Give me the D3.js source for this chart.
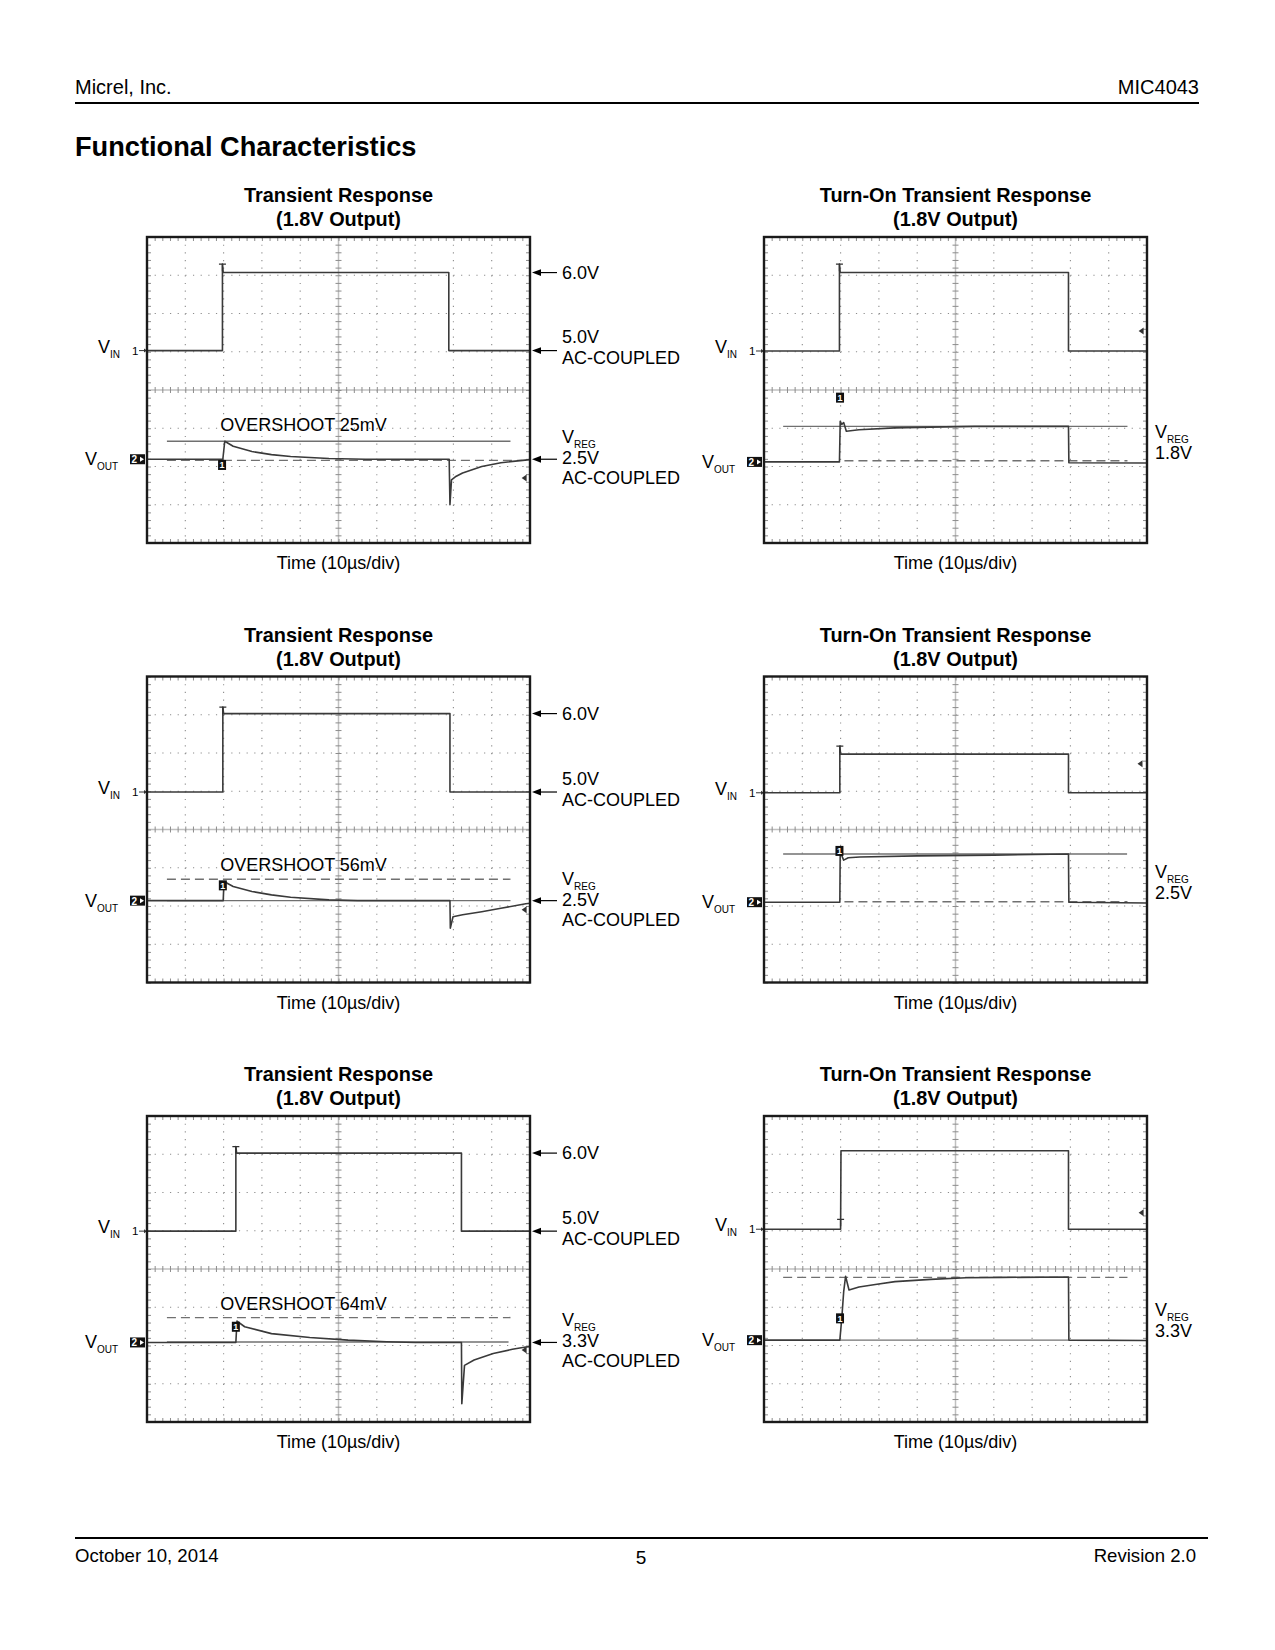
<!DOCTYPE html>
<html>
<head>
<meta charset="utf-8">
<script src="https://cdn.jsdelivr.net/npm/d3@7"></script>
<style>
  body { margin: 0; background: #fff; }
  svg { display: block; font-family: "Liberation Sans", Arial, Helvetica, sans-serif; }
</style>
</head>
<body>
<svg id="page" width="1275" height="1650"></svg>
<script>
// ---- data: time in µs (10 div x 10µs), level in screen divisions (0 = centre, +-4 = edges) ----
const titles = ["Transient Response", "Turn-On Transient Response", "Transient Response",
                "Turn-On Transient Response", "Transient Response", "Turn-On Transient Response"];
const subtitle = "(1.8V Output)";
const xLabel = "Time (10µs/div)";
const vinHiText = ["6.0V", null, "6.0V", null, "6.0V", null];
const vinLoText = ["5.0V", null, "5.0V", null, "5.0V", null];
const vregText = ["2.5V", "1.8V", "2.5V", "2.5V", "3.3V", "3.3V"];
const overshootText = ["OVERSHOOT 25mV", null, "OVERSHOOT 56mV", null, "OVERSHOOT 64mV", null];

// channel 1 (VIN) traces
const vin1 = [[0,1.03],[19.7,1.03],[19.7,3.29],[19.9,3.07],[78.8,3.07],[78.8,1.03],[100,1.03]];
const vin2 = [[0,1.02],[19.7,1.02],[19.7,3.29],[19.9,3.07],[79.5,3.07],[79.5,1.02],[100,1.02]];
const vin3 = [[0,0.98],[19.8,0.98],[19.8,3.2],[20,3.03],[79.1,3.03],[79.1,0.98],[100,0.98]];
const vin4 = [[0,0.96],[19.8,0.96],[19.8,2.18],[20,1.97],[79.5,1.97],[79.5,0.96],[100,0.96]];
const vin5 = [[0,0.99],[23.2,0.99],[23.2,3.2],[23.4,3.03],[82.1,3.03],[82.1,0.99],[100,0.99]];
const vin6 = [[0,1.04],[20,1.04],[20.1,3.09],[79.5,3.09],[79.5,1.04],[100,1.04]];

// channel 2 (VOUT) traces
const vout1 = [[0,-1.81],[19.8,-1.81],[20.3,-1.34],[22.5,-1.47],[27.4,-1.61],[32.5,-1.69],[37.5,-1.74],
               [47.5,-1.79],[57,-1.81],[78.9,-1.81],[79.1,-3.0],[79.5,-2.35],[80.5,-2.27],[82.4,-2.17],
               [87.4,-2.0],[92.4,-1.9],[100,-1.82]];
const vout2 = [[0,-1.88],[19.7,-1.88],[19.9,-0.82],[20.3,-0.9],[20.8,-0.85],[21.5,-1.08],[24.8,-1.04],
               [34.1,-0.99],[43.5,-0.97],[55,-0.95],[79.5,-0.95],[79.6,-1.9],[100,-1.91]];
const vout3 = [[0,-1.86],[19.9,-1.86],[20.1,-1.36],[22.5,-1.49],[27.4,-1.62],[32.5,-1.71],[37.5,-1.77],
               [47.5,-1.84],[55,-1.86],[79.1,-1.86],[79.2,-2.58],[79.9,-2.28],[82.4,-2.23],[87.4,-2.15],
               [92.4,-2.06],[98.9,-1.94],[100,-1.93]];
const vout4 = [[0,-1.9],[19.8,-1.9],[19.9,-0.56],[20.3,-0.68],[20.8,-0.8],[22,-0.74],[25,-0.72],
               [40,-0.69],[60,-0.67],[79.5,-0.64],[79.6,-1.9],[100,-1.92]];
const vout5 = [[0,-1.92],[23.2,-1.92],[23.5,-1.36],[25.5,-1.51],[32.5,-1.69],[42.5,-1.79],[52.5,-1.86],
               [62.5,-1.9],[70,-1.92],[82.1,-1.92],[82.2,-3.52],[82.9,-2.52],[85.4,-2.38],[90.4,-2.21],
               [95.4,-2.1],[98.9,-2.04],[100,-2.03]];
const vout6 = [[0,-1.86],[19.8,-1.86],[20.3,-1.3],[20.8,-0.6],[21.3,-0.19],[22.2,-0.55],[24.8,-0.47],
               [29.5,-0.4],[34.2,-0.33],[43.5,-0.27],[52.8,-0.23],[62.1,-0.22],[79.5,-0.21],
               [79.6,-1.86],[100,-1.87]];

// trigger "T" marks, cursor "1" boxes, right-edge arrows: [t, level]
const trigMarks = [[19.7,3.29],[19.7,3.29],[19.8,3.2],[19.8,2.18],[23.2,3.2],[20.0,1.3]];
const cursorMarks = [[19.6,-1.96],[19.85,-0.2],[19.8,-1.46],[19.7,-0.56],[23.2,-1.51],[19.85,-1.29]];
const edgeMarks = [[98.6,-2.3],[98.6,1.54],[98.6,-2.1],[98.3,1.72],[98.6,-2.12],[98.6,1.47]];

// reference lines: [tStart, tEnd, level]
const solidRefs = [[5.2,94.9,-1.34],[5.0,94.9,-0.95],[5.2,94.9,-1.86],[5.0,94.8,-0.64],[5.2,94.4,-1.91],[19.8,79.5,-1.86]];
const dashRefs = [[5.2,98,-1.84],[21,94.9,-1.85],[5.2,94.9,-1.3],[21,94.9,-1.89],[5.2,94.9,-1.27],[5.0,94.9,-0.22]];

const vinTraces = [vin1, vin2, vin3, vin4, vin5, vin6];
const voutTraces = [vout1, vout2, vout3, vout4, vout5, vout6];

// ---- layout ----
const boxX = [147, 764], boxY = [237, 676.5, 1116];
const W = 383, H = 306;
const LBL = 18;

const svg = d3.select("#page");

// page header / footer
svg.append("text").attr("x", 75).attr("y", 94).attr("font-size", 20).text("Micrel, Inc.");
svg.append("text").attr("x", 1199).attr("y", 94).attr("font-size", 20).attr("text-anchor", "end").text("MIC4043");
svg.append("line").attr("x1", 75).attr("x2", 1199).attr("y1", 103).attr("y2", 103)
  .attr("stroke", "#000").attr("stroke-width", 2);
svg.append("text").attr("x", 75).attr("y", 156).attr("font-size", 27.2).attr("font-weight", "bold")
  .text("Functional Characteristics");
svg.append("line").attr("x1", 75).attr("x2", 1208).attr("y1", 1538).attr("y2", 1538)
  .attr("stroke", "#000").attr("stroke-width", 2);
svg.append("text").attr("x", 75).attr("y", 1562).attr("font-size", 18.6).text("October 10, 2014");
svg.append("text").attr("x", 641).attr("y", 1564).attr("font-size", 19).attr("text-anchor", "middle").text("5");
svg.append("text").attr("x", 1196).attr("y", 1562).attr("font-size", 18.6).attr("text-anchor", "end").text("Revision 2.0");

const x = d3.scaleLinear().domain([0, 100]).range([0, W]);
const y = d3.scaleLinear().domain([-4, 4]).range([H, 0]);
const line = d3.line().x(d => x(d[0])).y(d => y(d[1]));
const minorX = d3.range(0, 101, 2);
const minorY = d3.range(-20, 21).map(d => d / 5);

function arrowLeft(g, x1, x2, yy, size) {
  // line from x2 to x1 with a filled head at x1, pointing left
  g.append("line").attr("x1", x1 + size).attr("x2", x2).attr("y1", yy).attr("y2", yy)
    .attr("stroke", "#000").attr("stroke-width", 1.2);
  g.append("path").attr("d", `M${x1},${yy}L${x1 + size},${yy - size * 0.38}L${x1 + size},${yy + size * 0.38}Z`)
    .attr("fill", "#000");
}

function vLabel(g, xx, yy, sub) {
  const t = g.append("text").attr("x", xx).attr("y", yy).attr("font-size", LBL);
  t.append("tspan").text("V");
  t.append("tspan").attr("font-size", 10).attr("dy", 5).text(sub);
}

function drawScope(i) {
  const col = i % 2, row = Math.floor(i / 2);
  const g = svg.append("g").attr("transform", `translate(${boxX[col]},${boxY[row]})`);
  const vin = vinTraces[i], vout = voutTraces[i];
  const vinLo = vin[0][1], vinHi = d3.max(vin.slice(3, 5), d => d[1]), voutLvl = vout[0][1];

  // titles
  g.append("text").attr("x", W / 2).attr("y", -35).attr("text-anchor", "middle")
    .attr("font-size", 19.9).attr("font-weight", "bold").text(titles[i]);
  g.append("text").attr("x", W / 2).attr("y", -11).attr("text-anchor", "middle")
    .attr("font-size", 19.9).attr("font-weight", "bold").text(subtitle);
  g.append("text").attr("x", W / 2).attr("y", H + 26).attr("text-anchor", "middle")
    .attr("font-size", LBL).text(xLabel);

  // graticule: dotted major lines
  g.selectAll(".gv").data(d3.range(10, 100, 10).filter(d => d !== 50)).join("line")
    .attr("x1", d => x(d)).attr("x2", d => x(d)).attr("y1", 0).attr("y2", H)
    .attr("stroke", "#8c8c8c").attr("stroke-width", 1.1).attr("stroke-dasharray", `1.2 ${H / 40 - 1.2}`);
  g.selectAll(".gh").data(d3.range(-3, 4).filter(d => d !== 0)).join("line")
    .attr("x1", 0).attr("x2", W).attr("y1", d => y(d)).attr("y2", d => y(d))
    .attr("stroke", "#8c8c8c").attr("stroke-width", 1.1).attr("stroke-dasharray", `1.2 ${W / 50 - 1.2}`);
  // centre cross
  g.append("line").attr("x1", x(50)).attr("x2", x(50)).attr("y1", 0).attr("y2", H)
    .attr("stroke", "#c0c0c0").attr("stroke-width", 1.5);
  g.append("line").attr("x1", 0).attr("x2", W).attr("y1", y(0)).attr("y2", y(0))
    .attr("stroke", "#c0c0c0").attr("stroke-width", 1.5);

  const styleAxis = a => {
    a.select(".domain").remove();
    a.selectAll(".tick line").attr("stroke", "#8c8c8c").attr("stroke-width", 1);
  };
  g.append("g").attr("transform", `translate(0,${y(0) - 3})`)
    .call(d3.axisBottom(x).tickValues(minorX).tickSize(6).tickFormat("")).call(styleAxis);
  g.append("g").attr("transform", `translate(${x(50) - 3},0)`)
    .call(d3.axisRight(y).tickValues(minorY).tickSize(6).tickFormat("")).call(styleAxis);
  // edge ticks
  g.append("g").call(d3.axisBottom(x).tickValues(minorX).tickSize(4).tickFormat("")).call(styleAxis);
  g.append("g").attr("transform", `translate(0,${H})`)
    .call(d3.axisTop(x).tickValues(minorX).tickSize(4).tickFormat("")).call(styleAxis);
  g.append("g").call(d3.axisRight(y).tickValues(minorY).tickSize(4).tickFormat("")).call(styleAxis);
  g.append("g").attr("transform", `translate(${W},0)`)
    .call(d3.axisLeft(y).tickValues(minorY).tickSize(4).tickFormat("")).call(styleAxis);

  // reference lines
  const sr = solidRefs[i], dr = dashRefs[i];
  g.append("line").attr("x1", x(sr[0])).attr("x2", x(sr[1])).attr("y1", y(sr[2])).attr("y2", y(sr[2]))
    .attr("stroke", "#707070").attr("stroke-width", 1.4);
  g.append("line").attr("x1", x(dr[0])).attr("x2", x(dr[1])).attr("y1", y(dr[2])).attr("y2", y(dr[2]))
    .attr("stroke", "#707070").attr("stroke-width", 1.4).attr("stroke-dasharray", "9 5");

  // traces
  [vin, vout].forEach(tr => {
    g.append("path").datum(tr).attr("d", line).attr("fill", "none")
      .attr("stroke", "#3a3a3a").attr("stroke-width", 1.6).attr("stroke-linejoin", "round");
  });

  // trigger T
  const tm = trigMarks[i];
  g.append("path").attr("d", `M${x(tm[0]) - 3.5},${y(tm[1])}H${x(tm[0]) + 3.5}M${x(tm[0])},${y(tm[1])}v7`)
    .attr("stroke", "#333").attr("stroke-width", 1.3).attr("fill", "none");
  // cursor box
  const cm = cursorMarks[i];
  g.append("rect").attr("x", x(cm[0]) - 4).attr("y", y(cm[1]) - 5).attr("width", 8).attr("height", 10).attr("fill", "#111");
  g.append("text").attr("x", x(cm[0])).attr("y", y(cm[1]) + 3.5).attr("text-anchor", "middle")
    .attr("font-size", 9).attr("font-weight", "bold").attr("fill", "#fff").text("1");
  // right edge arrow
  const em = edgeMarks[i];
  g.append("path").attr("d", `M${x(em[0]) - 3},${y(em[1])}L${x(em[0]) + 2},${y(em[1]) - 3.5}L${x(em[0]) + 2},${y(em[1]) + 3.5}Z`)
    .attr("fill", "#333");

  // channel markers at left edge
  g.append("text").attr("x", -15).attr("y", y(vinLo) + 4).attr("font-size", 11.5).text("1");
  g.append("line").attr("x1", -8).attr("x2", -2).attr("y1", y(vinLo)).attr("y2", y(vinLo)).attr("stroke", "#333");
  g.append("path").attr("d", `M0,${y(vinLo)}L-3,${y(vinLo) - 2}L-3,${y(vinLo) + 2}Z`).attr("fill", "#333");
  g.append("rect").attr("x", -17).attr("y", y(voutLvl) - 5).attr("width", 15).attr("height", 10).attr("fill", "#111");
  g.append("text").attr("x", -15.5).attr("y", y(voutLvl) + 4).attr("font-size", 10)
    .attr("font-weight", "bold").attr("fill", "#fff").text("2");
  g.append("path").attr("d", `M-3,${y(voutLvl)}L-7,${y(voutLvl) - 2.5}L-7,${y(voutLvl) + 2.5}Z`).attr("fill", "#fff");

  // left labels
  vLabel(g, -49, y(vinLo) + 2, "IN");
  vLabel(g, -62, y(voutLvl) + 6, "OUT");

  // right labels
  if (col === 0) {
    arrowLeft(g, W + 2, W + 27, y(vinHi), 9);
    g.append("text").attr("x", W + 32).attr("y", y(vinHi) + 6).attr("font-size", LBL).text(vinHiText[i]);
    arrowLeft(g, W + 2, W + 27, y(vinLo), 9);
    g.append("text").attr("x", W + 32).attr("y", y(vinLo) - 13.5 + 6).attr("font-size", LBL).text(vinLoText[i]);
    g.append("text").attr("x", W + 32).attr("y", y(vinLo) + 7.5 + 6).attr("font-size", LBL).text("AC-COUPLED");
    arrowLeft(g, W + 2, W + 27, y(voutLvl), 9);
    vLabel(g, W + 32, y(voutLvl) - 22 + 6, "REG");
    g.append("text").attr("x", W + 32).attr("y", y(voutLvl) - 1 + 6).attr("font-size", LBL).text(vregText[i]);
    g.append("text").attr("x", W + 32).attr("y", y(voutLvl) + 19 + 6).attr("font-size", LBL).text("AC-COUPLED");
    g.append("text").attr("x", x(19.1)).attr("y", 194).attr("font-size", LBL).text(overshootText[i]);
  } else {
    vLabel(g, W + 8, y(voutLvl) - 30 + 6, "REG");
    g.append("text").attr("x", W + 8).attr("y", y(voutLvl) - 9 + 6).attr("font-size", LBL).text(vregText[i]);
  }

  // frame
  g.append("rect").attr("width", W).attr("height", H).attr("fill", "none")
    .attr("stroke", "#1a1a1a").attr("stroke-width", 2.4);
}

d3.range(6).forEach(drawScope);
</script>
</body>
</html>
